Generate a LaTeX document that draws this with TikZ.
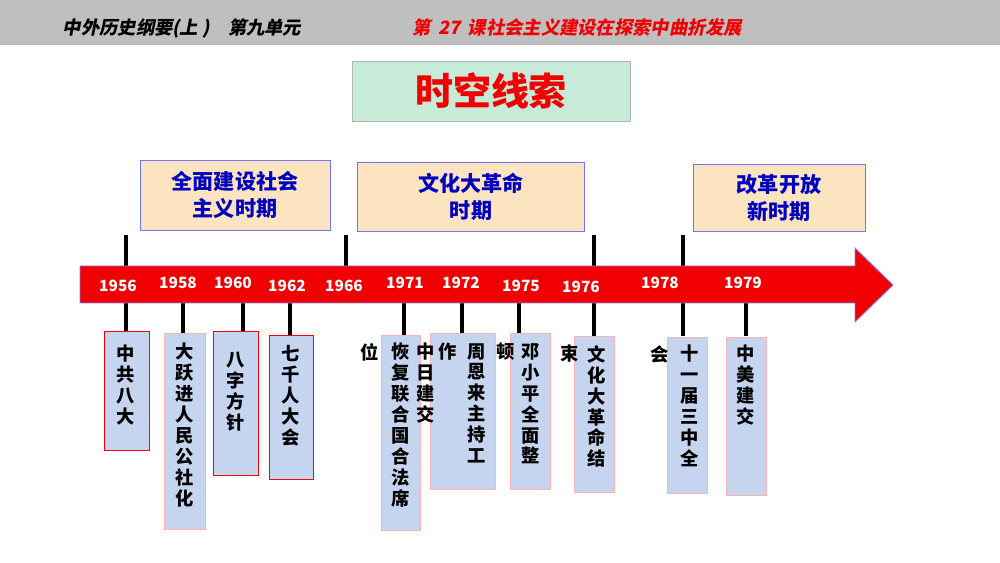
\documentclass[tikz,border=0pt]{standalone}
\usepackage{fontspec}
\newfontfamily\cjk{Noto Sans CJK SC}
\newfontfamily\cjki{Noto Sans CJK SC}[FakeSlant=0.2]
\begin{document}
\begin{tikzpicture}[x=0.025cm,y=-0.025cm,
  vbox/.style={draw=#1,fill=boxblue,line width=0.6pt},
  vcol/.style={anchor=north,align=center,inner sep=0,font=\cjk\bfseries\fontsize{13}{14.9}\selectfont},
  yr/.style={text=white,font=\cjk\bfseries\fontsize{11}{12}\selectfont},
  tick/.style={line width=3pt,black},
  pbox/.style={draw=blue!55,fill=peach,line width=0.6pt,align=center,text=blue!75!black,font=\cjk\bfseries\fontsize{15}{19}\selectfont}]
\definecolor{boxblue}{RGB}{197,213,240}
\definecolor{peach}{RGB}{252,228,192}
\definecolor{mint}{RGB}{198,235,216}
\definecolor{myred}{RGB}{240,0,0}
\useasboundingbox (0,0) rectangle (1000,563);
\fill[gray!50] (0,0) rectangle (1000,45);
\node[font=\cjki\bfseries\fontsize{13}{15}\selectfont,anchor=west] (h1) at (58,28) {中外历史纲要(上 )\quad 第九单元};
\node[font=\cjki\bfseries\fontsize{13}{15}\selectfont,anchor=west,text=myred] (h2) at (408,28) {第\, 27\, 课社会主义建设在探索中曲折发展};
\node[draw=gray!60,fill=mint,minimum width=278*0.025cm,minimum height=60*0.025cm,text=myred,font=\cjk\bfseries\fontsize{27}{30}\selectfont] (title) at (491,91) {时空线索};
\node[pbox,minimum width=190*0.025cm,minimum height=70*0.025cm] (p1) at (235,195) {全面建设社会\\主义时期};
\node[pbox,minimum width=227*0.025cm,minimum height=69*0.025cm] (p2) at (471,197) {文化大革命\\时期};
\node[pbox,minimum width=172*0.025cm,minimum height=67*0.025cm] (p3) at (779,198) {改革开放\\新时期};
% ticks above
\foreach \x in {126,346,594,683} \draw[tick] (\x,235) -- (\x,266);
% ticks below
\foreach \x in {126,183,243,290,404,462,519,594,683,746} \draw[tick] (\x,300) -- (\x,336);
% arrow
\draw[fill=myred,draw=blue!50,line width=0.6pt] (80,266) -- (855,266) -- (855,248) -- (893,285) -- (855,322) -- (855,303) -- (80,303) -- cycle;
\foreach \x/\y/\t in {118/286/1956,178/283/1958,233/283/1960,287/286/1962,344/286/1966,405/283/1971,461/283/1972,521/286/1975,581/287/1976,660/283/1978,743/283/1979}
  \node[yr] (y\t) at (\x,\y) {\t};
% boxes below
\draw[vbox=red] (104,331) rectangle (149,450);
\draw[vbox=red!30] (164,333) rectangle (205,529);
\draw[vbox=red] (213,331) rectangle (258,475);
\draw[vbox=red] (269,335) rectangle (313,479);
\draw[vbox=red!30] (381,335) rectangle (420,530);
\draw[vbox=red!30] (430,333) rectangle (495,489);
\draw[vbox=red!30] (510,333) rectangle (550,489);
\draw[vbox=red!30] (574,336) rectangle (614,492);
\draw[vbox=red!30] (667,337) rectangle (707,493);
\draw[vbox=red!30] (726,337) rectangle (766,495);
\node[vcol] (c1) at (126,345) {中\\共\\八\\大};
\node[vcol] (c2) at (185,343) {大\\跃\\进\\人\\民\\公\\社\\化};
\node[vcol] (c3) at (236,352) {八\\字\\方\\针};
\node[vcol] (c4) at (291,345) {七\\千\\人\\大\\会};
\node[vcol] (c5a) at (401,343) {恢\\复\\联\\合\\国\\合\\法\\席};
\node[vcol] (c5b) at (370,343) {位};
\node[vcol] (c6a) at (477,343) {周\\恩\\来\\主\\持\\工};
\node[vcol] (c6b) at (448,343) {作};
\node[vcol] (c6c) at (426,343) {中\\日\\建\\交};
\node[vcol] (c7a) at (531,343) {邓\\小\\平\\全\\面\\整};
\node[vcol] (c7b) at (506,343) {顿};
\node[vcol] (c8a) at (597,345) {文\\化\\大\\革\\命\\结};
\node[vcol] (c8b) at (570,345) {束};
\node[vcol] (c9a) at (690,345) {十\\一\\届\\三\\中\\全};
\node[vcol] (c9b) at (660,345) {会};
\node[vcol] (c10) at (746,345) {中\\美\\建\\交};
\end{tikzpicture}
\end{document}
